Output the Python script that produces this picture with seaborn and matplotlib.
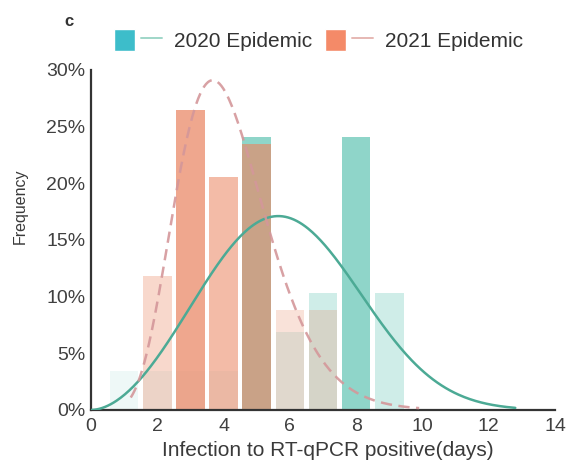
import math
import numpy as np
import pandas as pd
import matplotlib
matplotlib.use("Agg")
import matplotlib.pyplot as plt
from matplotlib.patches import Patch
from matplotlib.lines import Line2D
from matplotlib.legend_handler import HandlerTuple
from matplotlib.ticker import PercentFormatter
import seaborn as sns

# Observed frequency of days from infection to RT-qPCR positive
days_2020 = [1, 2, 3, 4, 5, 6, 7, 8, 9]
freq_2020 = [3.4, 3.4, 3.4, 3.4, 24.1, 6.9, 10.3, 24.1, 10.3]
days_2021 = [2, 3, 4, 5, 6, 7]
freq_2021 = [11.8, 26.5, 20.6, 23.5, 8.8, 8.8]

# Fitted distributions drawn over the histograms
weibull_2020 = {"shape": 2.85, "scale": 6.575, "range": (0.0, 12.8)}
gamma_2021 = {"shape": 8.35, "scale": 0.5, "range": (1.2, 9.9)}

x_ticks = [0, 2, 4, 6, 8, 10, 12, 14]
y_ticks = [0, 5, 10, 15, 20, 25, 30]
labels = ["2020 Epidemic", "2021 Epidemic"]

TEAL = "#45b9a5"
ORANGE = "#ea8663"


def weibull_pdf(x, k, lam):
    return (k / lam) * (x / lam) ** (k - 1) * np.exp(-(x / lam) ** k)


def gamma_pdf(x, k, theta):
    return x ** (k - 1) * np.exp(-x / theta) / (math.gamma(k) * theta ** k)


sns.set_style("white")
plt.rcParams["font.family"] = ["Liberation Sans", "DejaVu Sans"]

fig = plt.figure(figsize=(5.74, 4.65), dpi=100)
ax = fig.add_axes([0.1585, 0.1183, 0.8085, 0.7312])

df20 = pd.DataFrame({"day": days_2020, "freq": freq_2020})
df21 = pd.DataFrame({"day": days_2021, "freq": freq_2021})

sns.barplot(data=df20, x="day", y="freq", native_scale=True, width=0.86,
            color=TEAL, saturation=1, errorbar=None, linewidth=0, ax=ax)
n20 = len(ax.patches)
sns.barplot(data=df21, x="day", y="freq", native_scale=True, width=0.86,
            color=ORANGE, saturation=1, errorbar=None, linewidth=0, ax=ax)

# shade each bar by its frequency
for p, v in zip(ax.patches[:n20], freq_2020):
    p.set_alpha(0.6 * v / max(freq_2020))
for p, v in zip(ax.patches[n20:], freq_2021):
    p.set_alpha(0.72 * v / max(freq_2021))

xs20 = np.linspace(*weibull_2020["range"], 300)
ys20 = weibull_pdf(xs20, weibull_2020["shape"], weibull_2020["scale"]) * 100
xs21 = np.linspace(*gamma_2021["range"], 300)
ys21 = gamma_pdf(xs21, gamma_2021["shape"], gamma_2021["scale"]) * 100

sns.lineplot(x=xs20, y=ys20, color="#4caa95", lw=1.8, ax=ax, zorder=5)
sns.lineplot(x=xs21, y=ys21, color="#d4979a", lw=1.8, ax=ax, zorder=5,
             dashes=False)
ax.lines[-1].set_dashes((4.5, 2.6))
ax.lines[-1].set_alpha(0.9)

ax.set_xlim(0, 14)
ax.set_ylim(0, 30)
ax.set_xticks(x_ticks)
ax.set_yticks(y_ticks)
ax.yaxis.set_major_formatter(PercentFormatter(decimals=0))
ax.tick_params(axis="both", labelsize=14, colors="#333333", length=3,
               width=1.3, direction="out", labelcolor="#404040")
ax.tick_params(axis="x", pad=3)
ax.tick_params(axis="y", pad=1)
for s in ["top", "right"]:
    ax.spines[s].set_visible(False)
for s in ["left", "bottom"]:
    ax.spines[s].set_color("#333333")
    ax.spines[s].set_linewidth(1.6)

ax.set_xlabel("Infection to RT-qPCR positive(days)", fontsize=15,
              color="#3a3a3a")
ax.xaxis.set_label_coords(0.51, -0.092)
ax.set_ylabel("Frequency", fontsize=11.5, color="#3a3a3a")
ax.yaxis.set_label_coords(-0.137, 0.60)

handles = [
    (Patch(facecolor="#3dbdca"), Line2D([], [], color="#9fd6c8", lw=1.4)),
    (Patch(facecolor="#f48a68"), Line2D([], [], color="#e6b8b3", lw=1.4)),
]
fig.legend(handles, labels, loc="center", bbox_to_anchor=(0.555, 0.914),
           ncol=2, frameon=False, fontsize=15, handlelength=2.3,
           handleheight=1.3, handletextpad=0.6, columnspacing=0.6,
           handler_map={tuple: HandlerTuple(ndivide=None, pad=0.3)},
           labelcolor="#333333")

fig.text(0.113, 0.953, "c", fontsize=12, fontweight="bold", color="#333333",
         ha="left", va="center")

fig.savefig("out.png", dpi=100)
